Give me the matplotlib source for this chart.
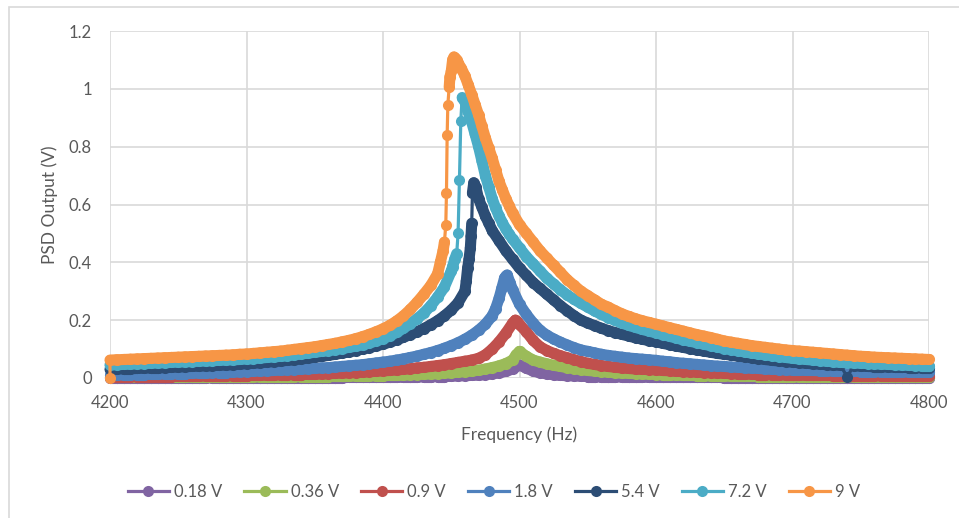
import numpy as np
import matplotlib
matplotlib.use("Agg")
import matplotlib.pyplot as plt
from matplotlib.patches import Rectangle
from matplotlib.collections import LineCollection
from matplotlib.ticker import FuncFormatter

plt.rcParams["font.family"] = "Lato"

# sweep frequencies (Hz), 5 Hz steps
freq = [
    4200, 4205, 4210, 4215, 4220, 4225, 4230, 4235, 4240, 4245,
    4250, 4255, 4260, 4265, 4270, 4275, 4280, 4285, 4290, 4295,
    4300, 4305, 4310, 4315, 4320, 4325, 4330, 4335, 4340, 4345,
    4350, 4355, 4360, 4365, 4370, 4375, 4380, 4385, 4390, 4395,
    4400, 4405, 4410, 4415, 4420, 4425, 4430, 4435, 4440, 4445,
    4450, 4455, 4460, 4465, 4470, 4475, 4480, 4485, 4490, 4495,
    4500, 4505, 4510, 4515, 4520, 4525, 4530, 4535, 4540, 4545,
    4550, 4555, 4560, 4565, 4570, 4575, 4580, 4585, 4590, 4595,
    4600, 4605, 4610, 4615, 4620, 4625, 4630, 4635, 4640, 4645,
    4650, 4655, 4660, 4665, 4670, 4675, 4680, 4685, 4690, 4695,
    4700, 4705, 4710, 4715, 4720, 4725, 4730, 4735, 4740, 4745,
    4750, 4755, 4760, 4765, 4770, 4775, 4780, 4785, 4790, 4795,
    4800,
]

# PSD output (V) on the sweep grid, one list per drive voltage
psd_018 = [
    .000, .000, .000, .000, .000, .000, .000, .000, .000, .000,
    .000, .000, .000, .000, .000, .001, .001, .001, .001, .001,
    .001, .001, .001, .001, .001, .001, .001, .001, .001, .001,
    .001, .001, .001, .001, .001, .002, .002, .002, .002, .002,
    .002, .002, .002, .003, .003, .003, .004, .004, .005, .005,
    .006, .007, .008, .009, .010, .012, .014, .018, .023, .031,
    .045, .034, .024, .018, .014, .011, .009, .008, .007, .006,
    .005, .005, .004, .004, .004, .003, .003, .003, .003, .002,
    .002, .002, .002, .002, .002, .002, .002, .002, .002, .002,
    .001, .001, .001, .001, .001, .001, .001, .001, .001, .001,
    .001, .001, .001, .001, .001, .001, .001, .001, .001, .001,
    .001, .001, .001, .001, .001, .001, .001, .001, .001, .001,
    .001,
]
psd_036 = [
    .002, .002, .002, .002, .002, .002, .002, .002, .002, .002,
    .002, .002, .003, .003, .003, .003, .003, .003, .003, .003,
    .003, .003, .004, .004, .004, .004, .004, .004, .005, .005,
    .005, .005, .005, .006, .006, .006, .007, .007, .007, .008,
    .008, .009, .009, .010, .011, .012, .013, .014, .015, .017,
    .018, .020, .022, .024, .027, .031, .036, .042, .050, .062,
    .092, .075, .062, .055, .049, .044, .040, .036, .032, .029,
    .026, .024, .022, .020, .018, .017, .016, .015, .014, .013,
    .012, .011, .011, .010, .009, .009, .008, .008, .007, .007,
    .007, .006, .006, .006, .006, .005, .005, .005, .005, .005,
    .005, .004, .004, .004, .004, .004, .004, .004, .004, .003,
    .003, .003, .003, .003, .003, .003, .003, .003, .003, .003,
    .003,
]
psd_09 = [
    .004, .004, .004, .004, .005, .005, .005, .005, .005, .005,
    .006, .006, .006, .006, .007, .007, .007, .007, .008, .008,
    .008, .009, .009, .010, .010, .011, .011, .012, .012, .013,
    .013, .014, .015, .016, .017, .018, .019, .020, .022, .023,
    .025, .026, .028, .030, .032, .035, .037, .040, .043, .046,
    .050, .054, .058, .062, .068, .080, .100, .125, .155, .190,
    .185, .160, .130, .108, .095, .085, .077, .070, .063, .057,
    .051, .047, .043, .040, .037, .035, .033, .031, .030, .029,
    .028, .026, .025, .023, .022, .021, .020, .019, .018, .017,
    .016, .015, .014, .014, .013, .012, .012, .011, .011, .010,
    .010, .010, .009, .009, .009, .009, .008, .008, .008, .008,
    .008, .008, .008, .007, .007, .007, .007, .007, .007, .007,
    .007,
]
psd_18 = [
    .010, .010, .011, .011, .012, .012, .013, .013, .014, .014,
    .015, .015, .016, .017, .017, .018, .019, .019, .020, .021,
    .022, .023, .024, .025, .026, .027, .028, .029, .030, .032,
    .033, .035, .036, .038, .040, .042, .044, .046, .049, .052,
    .055, .058, .062, .066, .071, .076, .082, .088, .095, .103,
    .112, .122, .134, .148, .165, .186, .215, .275, .352, .305,
    .255, .220, .190, .165, .148, .135, .124, .114, .105, .097,
    .092, .087, .082, .078, .075, .072, .069, .067, .065, .063,
    .061, .058, .056, .053, .051, .049, .047, .045, .043, .041,
    .040, .038, .037, .035, .034, .033, .031, .030, .029, .028,
    .027, .027, .026, .026, .025, .025, .024, .024, .023, .023,
    .022, .022, .022, .021, .021, .021, .021, .020, .020, .020,
    .020,
]
psd_54 = [
    .030, .031, .032, .032, .033, .034, .035, .035, .036, .037,
    .038, .039, .040, .041, .042, .043, .044, .045, .046, .048,
    .050, .051, .053, .055, .057, .059, .061, .063, .066, .069,
    .072, .075, .078, .082, .086, .090, .095, .100, .105, .111,
    .117, .124, .132, .141, .150, .160, .171, .184, .198, .215,
    .235, .260, .300, .535, .620, .560, .510, .475, .440, .410,
    .380, .355, .330, .310, .290, .270, .250, .232, .215, .200,
    .190, .181, .172, .164, .157, .151, .145, .139, .134, .129,
    .125, .120, .115, .110, .106, .101, .097, .093, .089, .085,
    .082, .079, .076, .073, .070, .067, .064, .061, .059, .057,
    .055, .053, .051, .049, .048, .046, .045, .044, .005, .042,
    .041, .040, .039, .039, .038, .037, .037, .036, .036, .035,
    .035,
]
psd_72 = [
    .045, .046, .047, .048, .049, .050, .051, .052, .053, .054,
    .055, .056, .057, .058, .059, .060, .061, .062, .063, .064,
    .066, .067, .069, .071, .073, .075, .077, .080, .083, .086,
    .089, .092, .095, .098, .102, .106, .110, .115, .121, .128,
    .136, .146, .158, .172, .188, .205, .225, .250, .280, .315,
    .370, .500, .955, .885, .800, .700, .620, .560, .515, .480,
    .450, .420, .395, .370, .345, .325, .305, .287, .272, .258,
    .245, .232, .220, .209, .199, .190, .182, .175, .168, .162,
    .156, .150, .144, .138, .132, .127, .122, .117, .112, .107,
    .102, .098, .094, .090, .086, .083, .080, .077, .074, .071,
    .068, .066, .064, .062, .060, .058, .056, .054, .053, .052,
    .051, .050, .049, .048, .047, .046, .045, .044, .043, .042,
    .042,
]
psd_9 = [
    .062, .063, .064, .065, .066, .067, .068, .069, .070, .071,
    .072, .073, .074, .075, .076, .077, .078, .079, .080, .082,
    .083, .085, .087, .089, .091, .093, .096, .099, .102, .105,
    .108, .112, .116, .120, .125, .130, .136, .143, .151, .160,
    .170, .182, .197, .215, .237, .262, .290, .320, .360, .470,
    1.06, 1.09, 1.045, .980, .910, .830, .760, .680, .620, .570,
    .530, .500, .470, .440, .415, .390, .365, .340, .320, .300,
    .285, .270, .255, .245, .233, .222, .213, .205, .198, .192,
    .186, .180, .174, .168, .162, .156, .150, .145, .140, .134,
    .128, .124, .120, .116, .112, .109, .106, .103, .100, .097,
    .095, .093, .091, .089, .087, .085, .083, .081, .079, .077,
    .075, .074, .072, .071, .070, .069, .068, .067, .066, .065,
    .064,
]

# extra sweep points read around the resonance (jumps and steep flanks)
extra_f_018, extra_v_018 = [], []
extra_f_036, extra_v_036 = [4497.5], [.080]
extra_f_09, extra_v_09 = [4497, 4498.5], [.200, .195]
extra_f_18 = [4482.5, 4487, 4489, 4491, 4493]
extra_v_18 = [.240, .310, .345, .356, .330]
extra_f_54 = [4461, 4462, 4463, 4464, 4464.5, 4465.5, 4466.5, 4468, 4472.5, 4477.5]
extra_v_54 = [.335, .380, .410, .450, .490, .640, .675, .660, .590, .535]
extra_f_72 = [4451, 4452.5, 4454, 4456, 4457, 4458, 4459,
              4462.5, 4467.5, 4472.5, 4477.5, 4482.5, 4487.5, 4492.5]
extra_v_72 = [.385, .410, .430, .685, .890, .970, .965,
              .920, .843, .750, .660, .588, .537, .497]
extra_f_9 = [4200, 4442, 4444, 4446, 4446.5, 4447, 4447.5, 4448.5, 4449,
             4451, 4452, 4453, 4454, 4457.5, 4462.5, 4467.5, 4472.5,
             4477.5, 4482.5, 4487.5, 4492.5]
extra_v_9 = [0.0, .400, .440, .530, .640, .840, .944, 1.006, 1.04,
             1.10, 1.11, 1.105, 1.10, 1.07, 1.013, .945, .870,
             .795, .720, .650, .595]

labels = ["0.18 V", "0.36 V", "0.9 V", "1.8 V", "5.4 V", "7.2 V", "9 V"]
colors = ["#8064A2", "#9BBB59", "#C0504D", "#4F81BD", "#2C4D75", "#4BACC6", "#F79646"]

series = [
    (extra_f_018, extra_v_018, psd_018),
    (extra_f_036, extra_v_036, psd_036),
    (extra_f_09, extra_v_09, psd_09),
    (extra_f_18, extra_v_18, psd_18),
    (extra_f_54, extra_v_54, psd_54),
    (extra_f_72, extra_v_72, psd_72),
    (extra_f_9, extra_v_9, psd_9),
]

fig = plt.figure(figsize=(9.59, 5.18), dpi=100)
ax = fig.add_axes([110 / 959, 140 / 518, 819 / 959, 347 / 518])

ms = 8
for i, ((ef, ev, vals), lab, col) in enumerate(zip(series, labels, colors)):
    f = np.concatenate([np.asarray(ef, float), np.asarray(freq, float)])
    v = np.concatenate([np.asarray(ev, float), np.asarray(vals, float)])
    order = np.argsort(f, kind="stable")
    f, v = f[order], v[order]
    # the dense sweep points merge into a solid band; keep it off the jumps
    pts = np.column_stack([f, v])
    segs = np.stack([pts[:-1], pts[1:]], axis=1)
    d = np.abs(np.diff(v))
    top = np.maximum(np.maximum(v[:-1], v[1:]), 1e-9)
    keep = ~((d > 0.055) | ((d > 0.02) & (d / top > 0.5)))
    band = LineCollection(segs[keep], colors=col, linewidths=ms,
                          capstyle="round", joinstyle="round",
                          zorder=3 + i, clip_on=False)
    ax.add_collection(band)
    ax.plot(f, v, color=col, lw=2.3, marker="o", markersize=ms,
            markeredgewidth=0, label=lab, clip_on=False, zorder=3.5 + i)

grey = "#595959"
ax.set_xlim(4200, 4800)
ax.set_ylim(0, 1.2)
ax.set_xticks(range(4200, 4801, 100))
ax.set_yticks([0, 0.2, 0.4, 0.6, 0.8, 1.0, 1.2])
ax.yaxis.set_major_formatter(FuncFormatter(lambda y, p: f"{y:g}"))
ax.grid(True, color="#d9d9d9", lw=1.2)
ax.set_axisbelow(True)
for s in ax.spines.values():
    s.set_visible(False)
ax.tick_params(length=0, labelsize=12, labelcolor=grey)
ax.tick_params(axis="x", pad=12)
ax.tick_params(axis="y", pad=13)

fig.text(519 / 959, 1 - 435 / 518, "Frequency (Hz)", ha="center", va="center",
         fontsize=12.5, color=grey)
fig.text(50 / 959, 1 - 205 / 518, "PSD Output (V)", ha="center", va="center",
         rotation=90, fontsize=12.5, color=grey)

fig.legend(loc="center", bbox_to_anchor=(494 / 959, 1 - 492 / 518), ncol=7,
           frameon=False, fontsize=12, labelcolor=grey, handlelength=2.5,
           handletextpad=0.3, columnspacing=1.3)

# chart area border
fig.patches.append(Rectangle((9 / 959, -0.5), 2, 0.5 + 1 - 7 / 518,
                             transform=fig.transFigure, fill=False,
                             edgecolor="#d9d9d9", lw=1.2))

fig.savefig("out.png", dpi=100)
